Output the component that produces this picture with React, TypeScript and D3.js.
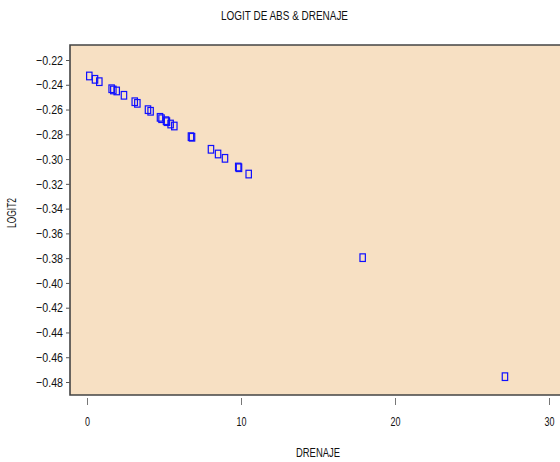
import React, {useEffect, useRef} from 'react';
import {select, scaleLinear, axisLeft, axisBottom, format} from 'd3';

// values
const drenaje = [0.15, 0.52, 0.8, 1.6, 1.71, 1.93, 2.4, 3.1, 3.27, 3.96, 4.13, 4.74, 4.84, 5.13, 5.19, 5.43, 5.67, 6.75, 6.82, 8.05, 8.51, 8.96, 9.82, 9.87, 10.5, 17.9, 27.14];
const logit2 = [-0.2329, -0.2356, -0.2375, -0.2432, -0.2442, -0.245, -0.2485, -0.2537, -0.255, -0.2601, -0.2614, -0.2663, -0.2674, -0.269, -0.2698, -0.2717, -0.2733, -0.2819, -0.2824, -0.2921, -0.2959, -0.2994, -0.3064, -0.307, -0.3121, -0.3796, -0.4757];
const xTicks = [0, 10, 20, 30];
const yTicks = [-0.22, -0.24, -0.26, -0.28, -0.30, -0.32, -0.34, -0.36, -0.38, -0.40, -0.42, -0.44, -0.46, -0.48];

const FONT = '"Liberation Sans", Arial, sans-serif';

function App() {
    const svgRef = useRef<SVGSVGElement>(null);
    const W = 560, H = 462;
    const left = 70, top = 45, bottom = 395, right = 562;

    const xScale = scaleLinear().domain([0, 30]).range([87, 549]);
    const yScale = scaleLinear().domain([-0.48, -0.22]).range([382, 60]);

    useEffect(() => {
        const svg = select(svgRef.current);
        const yaxis = axisLeft(yScale)
            .tickValues(yTicks)
            .tickSize(4)
            .tickPadding(3)
            .tickFormat(format('.2f'));
        const xaxis = axisBottom(xScale)
            .tickValues(xTicks)
            .tickSize(7)
            .tickPadding(11)
            .tickFormat(format('d'));
        const gy = svg.select('.y-axis').attr('transform', `translate(${left},0)`).call(yaxis as any);
        gy.select('.domain').remove();
        gy.selectAll('line').attr('stroke', '#555');
        gy.selectAll('text')
            .attr('font-family', FONT).attr('font-size', 13).attr('fill', '#111')
            .attr('textLength', 27).attr('lengthAdjust', 'spacingAndGlyphs');
        const gx = svg.select('.x-axis').attr('transform', `translate(0,${bottom + 3})`).call(xaxis as any);
        gx.select('.domain').remove();
        gx.selectAll('line').attr('stroke', '#777');
        gx.selectAll('text')
            .attr('font-family', FONT).attr('font-size', 13.5).attr('fill', '#111')
            .attr('textLength', (d: any) => d === 0 ? 5 : 10).attr('lengthAdjust', 'spacingAndGlyphs');

        svg.select('.points')
            .selectAll('rect')
            .data(drenaje.map((d, i) => [d, logit2[i]]))
            .join('rect')
            .attr('x', d => xScale(d[0]) - 2.7)
            .attr('y', d => yScale(d[1]) - 3.8)
            .attr('width', 5.4)
            .attr('height', 7.6)
            .attr('fill', 'none')
            .attr('stroke', '#1010ff')
            .attr('stroke-width', 1.2);
    }, []);

    return (
        <svg ref={svgRef} width={W} height={H} style={{position: 'absolute', left: 0, top: 0, background: '#fff'}}>
            <rect x={left} y={top} width={right - left} height={bottom - top} fill="#f7e0c3" />
            <path d={`M${right},${top}H${left}V${bottom}H${right}`} fill="none" stroke="#444" strokeWidth={1.6} />
            <text x={284.5} y={20} textAnchor="middle" fontFamily={FONT} fontSize={12.5} fill="#111"
                  textLength={127} lengthAdjust="spacingAndGlyphs">LOGIT DE ABS &amp; DRENAJE</text>
            <text x={318} y={457} textAnchor="middle" fontFamily={FONT} fontSize={13} fill="#111"
                  textLength={44} lengthAdjust="spacingAndGlyphs">DRENAJE</text>
            <text transform="translate(16,213) rotate(-90)" textAnchor="middle" fontFamily={FONT} fontSize={13} fill="#111"
                  textLength={30} lengthAdjust="spacingAndGlyphs">LOGIT2</text>
            <g className="y-axis"></g>
            <g className="x-axis"></g>
            <g className="points"></g>
        </svg>
    );
}

export default App;
